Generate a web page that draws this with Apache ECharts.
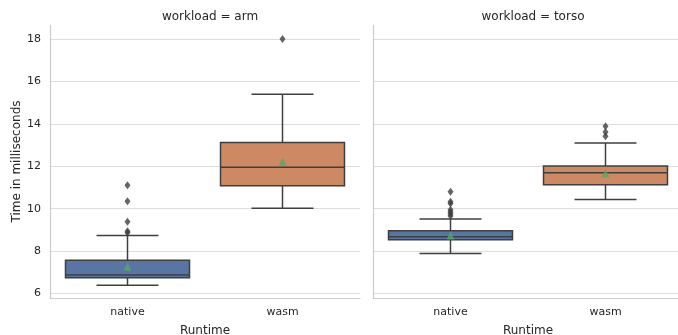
<!DOCTYPE html>
<html>
<head>
<meta charset="utf-8">
<script src="https://cdn.jsdelivr.net/npm/echarts@6/dist/echarts.min.js"></script>
<style>html,body{margin:0;padding:0;background:#fff}#c{width:678px;height:335px}</style>
</head>
<body>
<div id="c"></div>
<script>
// ---- data ----
const categories = ['native', 'wasm'];
const facets = ['arm', 'torso'];
// [lowWhisker, Q1, median, Q3, highWhisker]
const armStats = [[6.39, 6.74, 6.88, 7.57, 8.74], [10.02, 11.08, 11.95, 13.12, 15.40]];
const torsoStats = [[7.89, 8.54, 8.68, 8.96, 9.51], [10.43, 11.13, 11.69, 12.01, 13.10]];
const armMeans = [7.26, 12.21];
const torsoMeans = [8.74, 11.67];
const armOutliers = [[11.10, 10.35, 9.39, 8.94, 8.87], [18.0]];
const torsoOutliers = [[10.80, 10.33, 10.25, 9.95, 9.85, 9.75, 9.65], [13.89, 13.62, 13.42]];
const yTicks = [6, 8, 10, 12, 14, 16, 18];

const boxColors = ['#5975a4', '#cc8963'];
const lineColor = '#3f3f3f';
const textColor = '#262626';
const font = 'DejaVu Sans';

const chart = echarts.init(document.getElementById('c'));

function boxData(stats) {
  return stats.map((s, i) => [i].concat(s));
}
function pts(arr) {
  const out = [];
  arr.forEach((vals, i) => vals.forEach(v => out.push([i, v])));
  return out;
}

function renderBox(params, api) {
  const ci = api.value(0);
  const lo = api.coord([ci, api.value(1)]);
  const q1 = api.coord([ci, api.value(2)]);
  const md = api.coord([ci, api.value(3)]);
  const q3 = api.coord([ci, api.value(4)]);
  const hi = api.coord([ci, api.value(5)]);
  const bw = api.size([1, 0])[0];
  const boxW = bw * 0.8;
  const capW = boxW / 2;
  const cx = lo[0];
  const ls = { stroke: lineColor, lineWidth: 1.5 };
  return {
    type: 'group',
    children: [
      { type: 'line', shape: { x1: cx, y1: q1[1], x2: cx, y2: lo[1] }, style: ls },
      { type: 'line', shape: { x1: cx, y1: q3[1], x2: cx, y2: hi[1] }, style: ls },
      { type: 'line', shape: { x1: cx - capW / 2, y1: lo[1], x2: cx + capW / 2, y2: lo[1] }, style: ls },
      { type: 'line', shape: { x1: cx - capW / 2, y1: hi[1], x2: cx + capW / 2, y2: hi[1] }, style: ls },
      { type: 'rect', shape: { x: cx - boxW / 2, y: q3[1], width: boxW, height: q1[1] - q3[1] },
        style: { fill: boxColors[ci], stroke: lineColor, lineWidth: 1.5 } },
      { type: 'line', shape: { x1: cx - boxW / 2, y1: md[1], x2: cx + boxW / 2, y2: md[1] }, style: ls }
    ]
  };
}

const gridDefs = [
  { left: 50, top: 25, width: 310, height: 273, outerBoundsMode: 'none', containLabel: false },
  { left: 373, top: 25, width: 310, height: 273, outerBoundsMode: 'none', containLabel: false }
];

const statsByFacet = [armStats, torsoStats];
const meansByFacet = [armMeans, torsoMeans];
const outByFacet = [armOutliers, torsoOutliers];

const series = [];
facets.forEach((f, k) => {
  series.push({
    type: 'custom', xAxisIndex: k, yAxisIndex: k,
    renderItem: renderBox, data: boxData(statsByFacet[k]),
    encode: { x: 0, y: [1, 2, 3, 4, 5] }, z: 2
  });
  series.push({
    type: 'scatter', xAxisIndex: k, yAxisIndex: k,
    data: pts(outByFacet[k]), symbol: 'diamond', symbolSize: [6, 8],
    itemStyle: { color: lineColor }, z: 3
  });
  series.push({
    type: 'scatter', xAxisIndex: k, yAxisIndex: k,
    data: meansByFacet[k].map((v, i) => [i, v]), symbol: 'triangle', symbolSize: 8,
    itemStyle: { color: '#55a868' }, z: 4
  });
});

const option = {
  animation: false,
  backgroundColor: '#ffffff',
  textStyle: { fontFamily: font },
  title: facets.map((f, k) => ({
    text: 'workload = ' + f,
    left: gridDefs[k].left + 155, top: 6, textAlign: 'center',
    textStyle: { fontFamily: font, fontSize: 12, fontWeight: 'normal', color: textColor }
  })),
  grid: gridDefs,
  xAxis: facets.map((f, k) => ({
    type: 'category', gridIndex: k, data: categories,
    name: 'Runtime', nameLocation: 'middle', nameGap: 27,
    nameTextStyle: { fontFamily: font, fontSize: 12, color: textColor },
    axisLine: { show: true, lineStyle: { color: '#cccccc', width: 1.2 } },
    axisTick: { show: false },
    axisLabel: { fontFamily: font, fontSize: 11, color: textColor, margin: 9 },
    splitLine: { show: false }
  })),
  yAxis: facets.map((f, k) => ({
    type: 'value', gridIndex: k, min: 5.79, max: 18.66,
    minInterval: 2, maxInterval: 2,
    name: k === 0 ? 'Time in milliseconds' : '', nameLocation: 'middle', nameGap: 27,
    nameTextStyle: { fontFamily: font, fontSize: 12, color: textColor },
    axisLine: { show: true, lineStyle: { color: '#cccccc', width: 1.2 } },
    axisTick: { show: false },
    axisLabel: { show: k === 0, fontFamily: font, fontSize: 11, color: textColor, margin: 9,
      showMinLabel: false, showMaxLabel: false,
      formatter: v => (yTicks.indexOf(v) >= 0 ? String(v) : '') },
    splitLine: { show: true, showMinLine: false, showMaxLine: false, lineStyle: { color: '#dddddd', width: 1.2 } }
  })),
  series: series
};
chart.setOption(option);
</script>
</body>
</html>
